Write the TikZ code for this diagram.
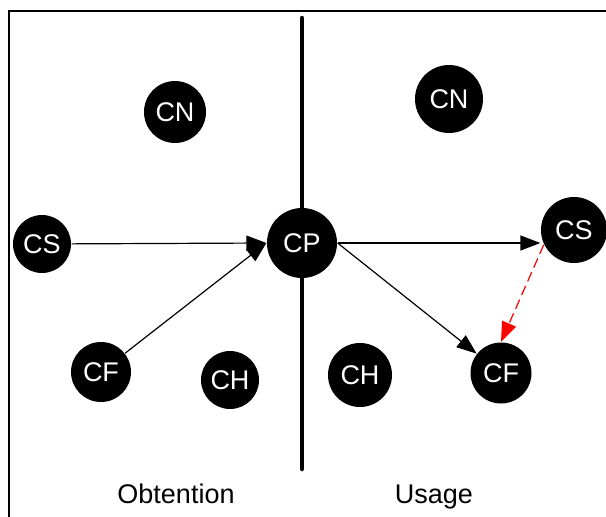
\documentclass[tikz,border=0pt]{standalone}
\usepackage{fontspec}
\setmainfont{Liberation Sans}
\usetikzlibrary{arrows.meta}

\begin{document}
\begin{tikzpicture}[
      x=1pt, y=-1pt,
      concept/.style={circle, fill=black, text=white, inner sep=0pt,
        font=\fontsize{27}{31}\selectfont},
      phase/.style={anchor=base, font=\fontsize{27}{31}\selectfont},
      >={Triangle[length=20pt, width=15pt]}, line width=1.2pt
    ]
      \useasboundingbox (0,0) rectangle (606,517);
      \draw[line width=2pt] (9,517) -- (9,11) -- (606,11);

      % dividing line
      \coordinate (top) at (302,18);
      \coordinate (bot) at (302,469);
      \draw[line width=4.5pt, line cap=round] (top) -- (bot);

      % obtention side
      \node[concept, minimum size=62pt] (CNl) at (175,112) {CN};
      \node[concept, minimum size=58pt] (CSl) at (42,244) {CS};
      \node[concept, minimum size=60pt] (CFl) at (101,372) {CF};
      \node[concept, minimum size=58pt] (CHl) at (230,380) {CH};

      \node[concept, minimum size=70pt] (CP) at (302,243) {CP};

      % usage side
      \node[concept, minimum size=68pt] (CNr) at (449,99) {CN};
      \node[concept, minimum size=66pt] (CSr) at (574,230) {CS};
      \node[concept, minimum size=64pt] (CHr) at (360,375) {CH};
      \node[concept, minimum size=61pt] (CFr) at (501,373) {CF};

      \node[phase] (obt) at (176,503) {Obtention};
      \node[phase] (use) at (434,503) {Usage};

      \draw[->] (CSl) -- (CP.west);
      \draw[->] (CFl) -- (CP.west);
      \draw[->] (CP.east) -- (CP.east -| CSr.west);
      \draw[->] (CP.east) -- (CFr);
      \draw[->, red, dash pattern=on 10pt off 5pt] (CSr.206) -- (CFr.north);
    \end{tikzpicture}
\end{document}
